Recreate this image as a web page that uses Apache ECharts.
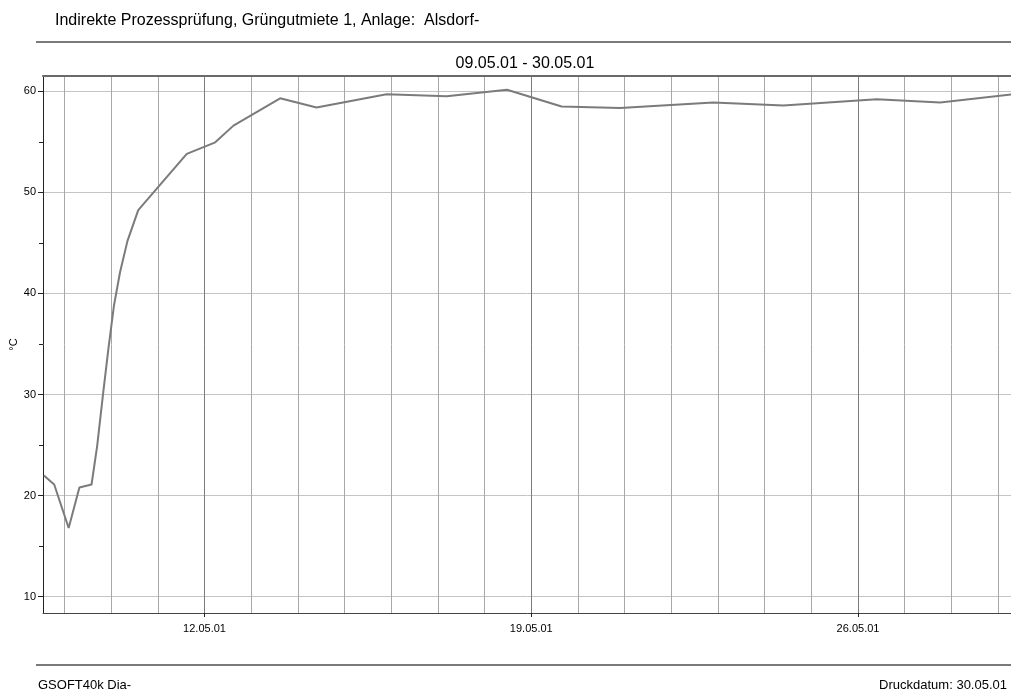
<!DOCTYPE html>
<html>
<head>
<meta charset="utf-8">
<script src="https://cdn.jsdelivr.net/npm/echarts@6/dist/echarts.min.js"></script>
<style>
html,body{margin:0;padding:0;background:#fff;}
#chart{width:1011px;height:690px;}
</style>
</head>
<body>
<div id="chart"></div>
<script>
// x values: days after 09.05.01 00:00
const dayOffsets = [-0.44, -0.22, 0.09, 0.32, 0.58, 0.70, 0.83, 0.94, 1.06, 1.19, 1.35, 1.58, 2.62, 3.23, 3.62, 4.62, 5.40, 6.90, 8.19, 9.48, 10.65, 11.90, 13.90, 15.40, 17.40, 18.76, 20.32];
const temps      = [22.0, 21.1, 16.8, 20.8, 21.1, 24.9, 30.2, 34.5, 38.8, 42.1, 45.2, 48.25, 53.8, 54.95, 56.6, 59.3, 58.4, 59.7, 59.5, 60.15, 58.5, 58.35, 58.9, 58.6, 59.2, 58.9, 59.7];

const dayGridTicks = [0,1,2,3,4,5,6,7,8,9,10,11,12,13,14,15,16,17,18,19,20];
const labelDays = [3, 10, 17];
const labelTexts = ['12.05.01', '19.05.01', '26.05.01'];
const yMajorTicks = [10, 20, 30, 40, 50, 60];
const yMinorTicks = [15, 25, 35, 45, 55];

const titleText = 'Indirekte Prozessprüfung, Grüngutmiete 1, Anlage:  Alsdorf-';
const periodText = '09.05.01 - 30.05.01';
const footerLeft = 'GSOFT40k Dia-';
const footerRight = 'Druckdatum: 30.05.01';
const unitText = '°C';

const X_MIN = -0.46, X_MAX = 20.32;
const Y_MIN = 8.39, Y_MAX = 61.51;
const FONT = 'Liberation Sans, Arial, sans-serif';

const chart = echarts.init(document.getElementById('chart'));
chart.setOption({
  animation: false,
  backgroundColor: '#fff',
  grid: { left: 43, right: -2, top: 76, bottom: 77, containLabel: false, outerBoundsMode: 'none' },
  graphic: [
    { type: 'text', left: 55, top: 13, style: { text: titleText, font: '16px ' + FONT, fill: '#000' } },
    { type: 'line', shape: { x1: 36, y1: 42, x2: 1011, y2: 42 }, style: { stroke: '#7a7a7a', lineWidth: 2 } },
    { type: 'text', x: 525, y: 64, style: { text: periodText, font: '16px ' + FONT, fill: '#000', align: 'center', verticalAlign: 'middle' } },
    { type: 'line', shape: { x1: 36, y1: 665, x2: 1011, y2: 665 }, style: { stroke: '#7a7a7a', lineWidth: 2 } },
    { type: 'text', x: 38, y: 685, style: { text: footerLeft, font: '13px ' + FONT, fill: '#000', align: 'left', verticalAlign: 'middle' } },
    { type: 'text', x: 1007, y: 685, style: { text: footerRight, font: '13px ' + FONT, fill: '#000', align: 'right', verticalAlign: 'middle' } }
  ],
  xAxis: [
    {
      type: 'value', min: X_MIN, max: X_MAX, position: 'bottom',
      axisLine: { show: true, onZero: false, lineStyle: { color: '#444', width: 1 } },
      axisTick: { show: false, customValues: dayGridTicks },
      axisLabel: { show: false },
      splitLine: { show: true, lineStyle: { color: '#a8a8a8', width: 1 } }
    },
    {
      type: 'value', min: X_MIN, max: X_MAX, position: 'bottom',
      axisLine: { show: false, onZero: false },
      axisTick: { show: true, customValues: labelDays, length: 4, lineStyle: { color: '#222' } },
      axisLabel: {
        show: true, customValues: labelDays, margin: 10,
        fontFamily: FONT, fontSize: 11, color: '#000',
        formatter: function (v) { const i = labelDays.indexOf(Math.round(v)); return i >= 0 ? labelTexts[i] : ''; }
      },
      splitLine: { show: true, lineStyle: { color: '#7c7c7c', width: 1 } }
    },
    {
      type: 'value', min: X_MIN, max: X_MAX, position: 'top',
      axisLine: { show: true, onZero: false, lineStyle: { color: '#6a6a6a', width: 2 } },
      axisTick: { show: false }, axisLabel: { show: false }, splitLine: { show: false }
    }
  ],
  yAxis: [
    {
      type: 'value', min: Y_MIN, max: Y_MAX, position: 'left',
      name: unitText, nameLocation: 'middle', nameRotate: 90, nameGap: 24, nameMoveOverlap: false,
      nameTextStyle: { fontFamily: FONT, fontSize: 11, color: '#000' },
      axisLine: { show: true, onZero: false, lineStyle: { color: '#222', width: 1 } },
      axisTick: { show: true, customValues: yMajorTicks, length: 5, lineStyle: { color: '#222' } },
      axisLabel: { show: true, customValues: yMajorTicks, margin: 7, fontFamily: FONT, fontSize: 11, color: '#000' },
      splitLine: { show: true, lineStyle: { color: '#c4c4c4', width: 1 } }
    },
    {
      type: 'value', min: Y_MIN, max: Y_MAX, position: 'left',
      axisLine: { show: false, onZero: false },
      axisTick: { show: true, customValues: yMinorTicks, length: 4, lineStyle: { color: '#222' } },
      axisLabel: { show: false },
      splitLine: { show: false }
    }
  ],
  series: [
    {
      type: 'line', xAxisIndex: 0, yAxisIndex: 0,
      data: dayOffsets.map((d, i) => [d, temps[i]]),
      showSymbol: false, symbol: 'none',
      lineStyle: { color: '#7b7b7b', width: 2 },
      z: 5
    }
  ]
});
</script>
</body>
</html>
